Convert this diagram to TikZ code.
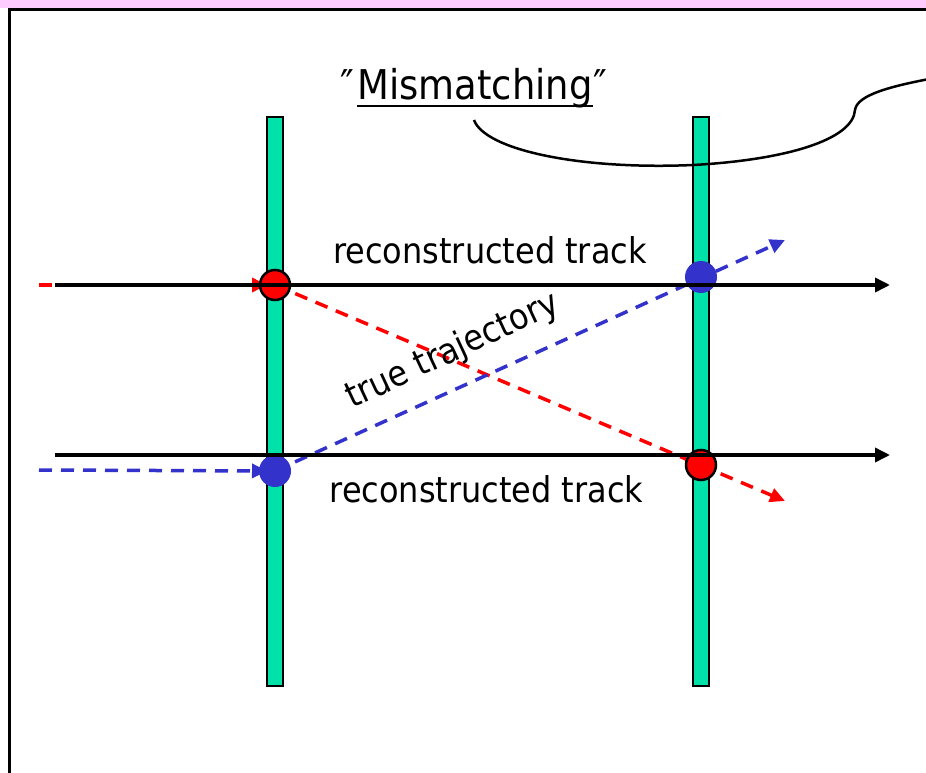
\documentclass[tikz,border=0pt]{standalone}
\usepackage{fontspec}
\setmainfont[FakeStretch=0.9]{DejaVu Sans}
\usetikzlibrary{arrows.meta}
\definecolor{bargreen}{RGB}{0,226,170}
\definecolor{trkblue}{RGB}{51,51,204}
\definecolor{trkred}{RGB}{255,0,0}
\definecolor{bandpink}{RGB}{255,204,255}
\begin{document}
\begin{tikzpicture}[x=1pt,y=-1pt,
  bar/.style={draw=black, line width=2.5pt, fill=bargreen, minimum width=16pt, minimum height=569pt, inner sep=0pt},
  tip/.style={-{Triangle[length=15pt,width=14pt]}},
  track/.style={draw=black, line width=3.5pt, tip},
  dashline/.style={line width=3.5pt, dash pattern=on 13pt off 9pt, tip},
  redpt/.style={circle, fill=trkred, draw=black, line width=2.5pt, minimum size=30pt, inner sep=0pt},
  bluept/.style={circle, fill=trkblue, minimum size=32pt, inner sep=0pt},
  lbl/.style={inner sep=0pt, font=\fontsize{35.5}{40}\selectfont},
  title/.style={inner sep=0pt, font=\fontsize{41}{46}\selectfont},
]
\useasboundingbox (0,0) rectangle (926,773);
\clip (0,0) rectangle (926,773);
% pink band and frame
\fill[bandpink] (0,0) rectangle (926,8.5);
\draw[line width=3.5pt] (9.5,780) -- (9.5,9.5) -- (935,9.5);

% detector planes
\node[bar] (bl) at (275,401.5) {};
\node[bar] (br) at (701,401.5) {};

% free ends
\coordinate (rs) at (39,285);
\coordinate (re) at (785,501);
\coordinate (bs) at (39,470);
\coordinate (be) at (785,240);
\coordinate (t1s) at (55,285);
\coordinate (t1e) at (890,285);
\coordinate (t2s) at (55,455);
\coordinate (t2e) at (890,455);

% hit positions
\coordinate (r1) at (275,285);
\coordinate (r2) at (701,465);
\coordinate (b1) at (275,471);
\coordinate (b2) at (701,277);

% true trajectories (dashed)
\draw[dashline, trkred, shorten >=8pt] (rs) -- (r1);
\draw[dashline, trkred] (r1) -- (re);
\draw[dashline, trkblue, shorten >=8pt] (bs) -- (b1);
\draw[dashline, trkblue] (b1) -- (be);

% hits on top of dashed lines
\node[redpt] (hr1) at (r1) {};
\node[redpt] (hr2) at (r2) {};
\node[bluept] (hb1) at (b1) {};
\node[bluept] (hb2) at (b2) {};

% reconstructed tracks
\draw[track] (t1s) -- (t1e);
\draw[track] (t2s) -- (t2e);

% labels
\node[lbl, anchor=base] (rt1) at (490,263) {reconstructed track};
\node[lbl, anchor=base] (rt2) at (486.5,502) {reconstructed track};
\node[lbl, anchor=base, rotate=25] (tt) at (457,360) {true trajectory};

\node[title, anchor=base] (mm) at (475,100) {Mismatching};
\node[title, anchor=base east] (q1) at ([xshift=-3pt]mm.base west) {″};
\node[title, anchor=base west] (q2) at ([xshift=1pt]mm.base east) {″};
\draw[line width=2.5pt] ([yshift=-6pt]mm.base west) -- ([yshift=-6pt]mm.base east);

% callout curve
\draw[line width=2.5pt] (474,120) .. controls (485,150) and (580,170) .. (693,165)
  .. controls (785,160) and (853,140) .. (855,110)
  .. controls (857,95) and (890,86) .. (940,77);
\end{tikzpicture}
\end{document}
